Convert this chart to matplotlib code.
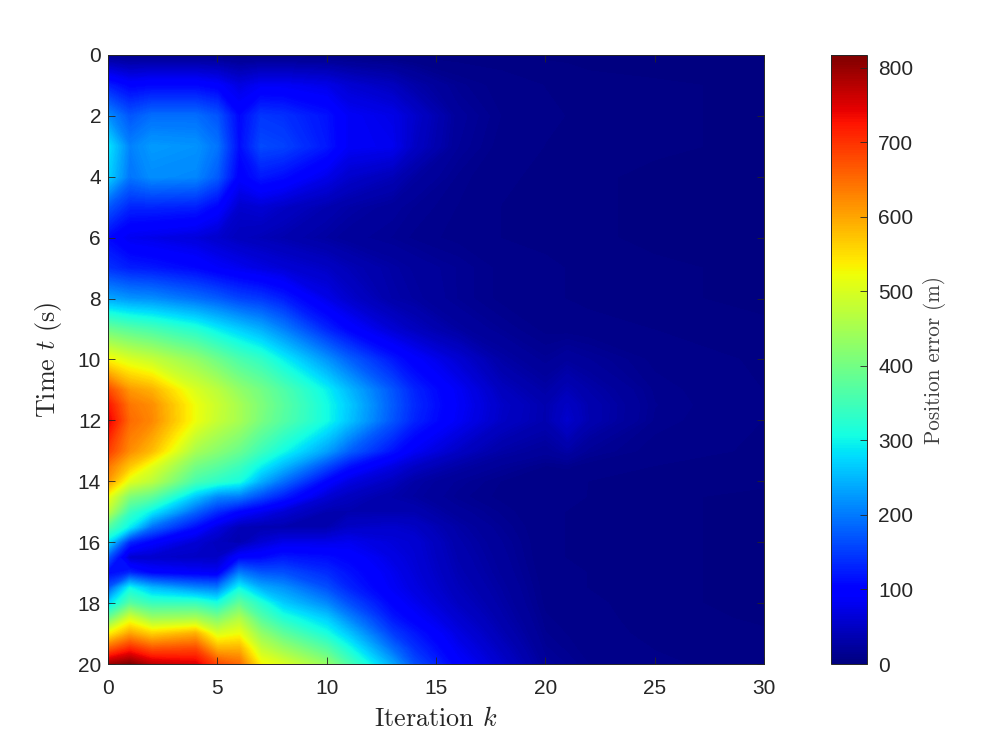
import numpy as np
import matplotlib
matplotlib.use('Agg')
import matplotlib.pyplot as plt
from matplotlib.cm import ScalarMappable
from matplotlib.colors import Normalize

plt.rcParams['mathtext.fontset'] = 'cm'
plt.rcParams['axes.unicode_minus'] = False

iterations = [0, 1, 2, 4, 5, 6, 7, 8, 10, 11, 13, 14, 16, 18, 20, 21, 22, 25, 30]
times = [0, 1, 2, 3, 4, 5, 6, 7, 8, 9, 10, 11, 11.5, 12, 13, 13.5, 14, 14.5, 15, 15.5, 16, 16.5, 17, 17.5, 18, 18.5, 19, 19.5, 20]

# position error per iteration, one list per k, same order as times
err_k0 = [10, 125, 215, 285, 270, 170, 105, 140, 235, 390, 530, 680, 725, 745, 690, 640, 610, 520, 470, 370, 280, 170, 105, 170, 270, 390, 530, 660, 790]
err_k1 = [8, 100, 170, 205, 195, 130, 80, 125, 220, 370, 500, 610, 640, 650, 620, 570, 505, 410, 340, 290, 130, 55, 130, 300, 370, 500, 600, 710, 815]
err_k2 = [8, 105, 190, 225, 215, 130, 75, 120, 215, 355, 480, 590, 620, 625, 580, 510, 470, 380, 290, 190, 95, 55, 100, 250, 340, 440, 560, 670, 770]
err_k4 = [8, 105, 190, 220, 210, 125, 65, 105, 190, 320, 430, 500, 520, 520, 450, 400, 355, 260, 180, 110, 60, 50, 90, 210, 340, 450, 590, 680, 750]
err_k5 = [8, 95, 170, 195, 175, 100, 55, 90, 175, 290, 395, 470, 485, 480, 420, 375, 330, 210, 135, 70, 45, 50, 85, 200, 310, 410, 500, 590, 680]
err_k6 = [6, 70, 105, 110, 95, 55, 45, 80, 155, 265, 360, 430, 450, 450, 390, 345, 310, 200, 100, 40, 35, 100, 200, 300, 380, 460, 520, 590, 650]
err_k7 = [6, 85, 145, 160, 120, 60, 40, 70, 145, 240, 335, 400, 410, 405, 345, 295, 240, 160, 80, 35, 60, 105, 170, 240, 320, 370, 430, 480, 530]
err_k8 = [6, 85, 140, 155, 110, 50, 35, 62, 125, 205, 295, 365, 375, 370, 305, 250, 190, 125, 60, 35, 75, 120, 165, 220, 265, 320, 380, 440, 500]
err_k10 = [5, 75, 115, 120, 75, 35, 25, 50, 75, 130, 220, 295, 305, 305, 230, 160, 100, 60, 35, 35, 75, 110, 135, 165, 210, 265, 310, 370, 430]
err_k11 = [4, 60, 85, 85, 55, 28, 20, 40, 55, 100, 180, 250, 265, 260, 180, 115, 70, 45, 35, 50, 80, 100, 115, 130, 165, 210, 260, 310, 360]
err_k13 = [3, 45, 75, 80, 40, 20, 15, 27, 30, 60, 120, 170, 175, 170, 115, 70, 45, 30, 35, 55, 65, 72, 80, 85, 100, 120, 150, 190, 235]
err_k14 = [3, 30, 55, 50, 25, 15, 12, 22, 25, 45, 95, 130, 135, 130, 85, 50, 28, 25, 35, 50, 60, 62, 65, 70, 80, 95, 120, 140, 165]
err_k16 = [2, 14, 20, 18, 12, 10, 9, 15, 15, 25, 60, 85, 88, 85, 50, 28, 17, 14, 20, 28, 32, 35, 38, 42, 48, 58, 70, 82, 95]
err_k18 = [2, 8, 10, 8, 6, 5, 5, 9, 9, 15, 28, 45, 52, 50, 28, 17, 10, 9, 12, 15, 18, 20, 22, 25, 28, 32, 38, 46, 55]
err_k20 = [2, 5, 6, 5, 4, 4, 4, 6, 6, 9, 16, 28, 35, 35, 20, 10, 7, 6, 6, 6, 6, 6, 7, 8, 9, 11, 13, 16, 20]
err_k21 = [2, 4, 5, 4, 3, 3, 3, 5, 5, 8, 22, 40, 50, 55, 28, 11, 7, 6, 5, 5, 5, 5, 6, 6, 7, 8, 10, 12, 15]
err_k22 = [1, 4, 4, 3, 3, 3, 3, 4, 4, 7, 18, 30, 35, 35, 16, 8, 5, 5, 4, 4, 4, 4, 5, 5, 6, 6, 7, 8, 10]
err_k25 = [1, 3, 3, 3, 2, 2, 2, 3, 3, 5, 9, 12, 13, 12, 8, 5, 4, 3, 3, 3, 3, 3, 3, 3, 3, 4, 4, 5, 6]
err_k30 = [1, 2, 2, 2, 2, 1, 1, 2, 2, 3, 4, 5, 5, 5, 4, 3, 3, 2, 2, 2, 2, 2, 2, 2, 2, 2, 3, 3, 3]

err = np.array([err_k0, err_k1, err_k2, err_k4, err_k5, err_k6, err_k7, err_k8, err_k10, err_k11,
                err_k13, err_k14, err_k16, err_k18, err_k20, err_k21, err_k22, err_k25, err_k30]).T

W, H = 996, 747
fig = plt.figure(figsize=(W / 100, H / 100), dpi=100)
ax = fig.add_axes([108 / W, 1 - 664 / H, 656 / W, 609 / H])
cax = fig.add_axes([831 / W, 1 - 664 / H, 36 / W, 609 / H])

# contourf with many levels keeps the colours mapped from the value, like interp shading
norm = Normalize(0, 817)
ax.contourf(iterations, times, err, levels=np.linspace(0, 817, 320), cmap='jet', norm=norm, antialiased=False)
ax.set_xlim(0, 30)
ax.set_ylim(20, 0)
ax.set_xticks(range(0, 31, 5))
ax.set_yticks(range(0, 21, 2))

cb = fig.colorbar(ScalarMappable(norm=norm, cmap='jet'), cax=cax)
cb.set_ticks(range(0, 801, 100))

text_col = '#262626'
for a in (ax, cax):
    a.tick_params(direction='in', length=5, width=0.6, colors=text_col, labelsize=15,
                  top=a is ax, right=True, labelfontfamily='Liberation Sans')
    for s in a.spines.values():
        s.set_linewidth(0.7)
        s.set_color(text_col)
ax.tick_params(axis='x', pad=11)
ax.tick_params(axis='y', pad=5)
cax.tick_params(axis='y', pad=8)

fig.text(436 / W, 1 - 719 / H, r'Iteration $k$', fontsize=18.8, family='cmr10', color=text_col, ha='center', va='center')
fig.text(48 / W, 1 - 360 / H, r'Time $t$ (s)', fontsize=18.8, family='cmr10', color=text_col, ha='center', va='center', rotation=90)
fig.text(934 / W, 1 - 360 / H, 'Position error (m)', fontsize=15.2, family='cmr10', color='#404040', ha='center', va='center', rotation=90)

fig.savefig('out.png', dpi=100)
